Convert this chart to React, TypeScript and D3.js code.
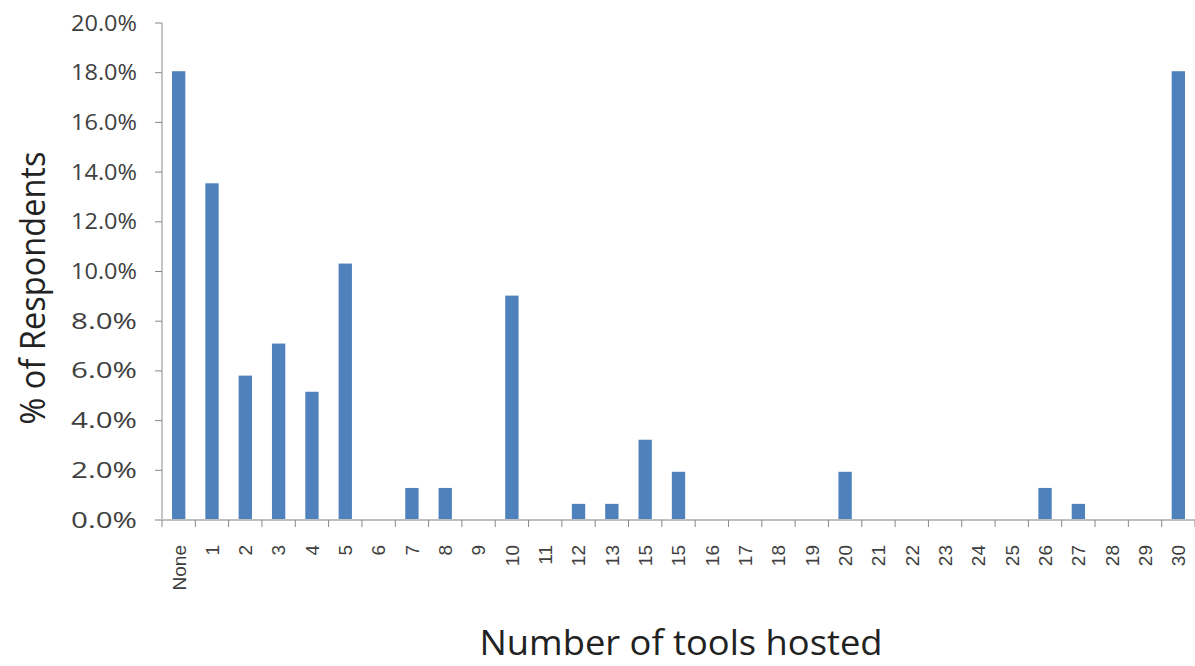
import React from "react";
import * as d3 from "d3";

const categories = ["None","1","2","3","4","5","6","7","8","9","10","11","12","13","15","15","16","17","18","19","20","21","22","23","24","25","26","27","28","29","30"];
const values = [18.06,13.55,5.81,7.10,5.16,10.32,0,1.29,1.29,0,9.03,0,0.65,0.65,3.23,1.94,0,0,0,0,1.94,0,0,0,0,0,1.29,0.65,0,0,18.06];
const yTicks = [0,2,4,6,8,10,12,14,16,18,20];

export default function App() {
  const W = 1195, H = 666;
  const left = 162, right = 1195, top = 23, bottom = 520;
  const x = d3.scaleBand<number>().domain(d3.range(categories.length)).range([left, right]).paddingInner(0.6).paddingOuter(0.3);
  const y = d3.scaleLinear().domain([0, 20]).range([bottom, top]);
  const step = x.step();
  return (
    <svg width={W} height={H} style={{ position: "absolute", left: 0, top: 0 }}>
      <rect width={W} height={H} fill="#fff" />
      {values.map((v, i) => (
        <rect key={i} x={x(i)!} width={x.bandwidth()} y={y(v)} height={bottom - y(v)} fill="#4F81BD" />
      ))}
      <line x1={left} x2={left} y1={top} y2={bottom} stroke="#888" strokeWidth={1} />
      {yTicks.map(t => (
        <g key={t}>
          <line x1={left - 7} x2={left} y1={y(t)} y2={y(t)} stroke="#888" />
          <text x={137} y={y(t)} dy="0.36em" textAnchor="end" fontFamily="'Open Sans', sans-serif" fontSize={21} textLength={66} lengthAdjust="spacingAndGlyphs" fill="#404040">{t.toFixed(1) + "%"}</text>
        </g>
      ))}
      <line x1={left - 7} x2={right} y1={bottom} y2={bottom} stroke="#c0c0c0" strokeWidth={2} />
      {d3.range(categories.length + 1).map(i => (
        <line key={i} x1={left + step * i} x2={left + step * i} y1={bottom} y2={bottom + 7} stroke="#888" />
      ))}
      {categories.map((c, i) => {
        const cx = x(i)! + x.bandwidth() / 2;
        return (
          <text key={i} transform={`translate(${cx},${545}) rotate(-90)`} textAnchor="end" dy="0.36em" fontFamily="'Liberation Sans', Arial, sans-serif" fontSize={19} fill="#404040">{c}</text>
        );
      })}
      <text transform={`translate(45,${288}) rotate(-90)`} textAnchor="middle" fontFamily="'Open Sans', sans-serif" fontSize={34} textLength={273} lengthAdjust="spacingAndGlyphs" fill="#222">% of Respondents</text>
      <text x={681} y={655} textAnchor="middle" fontFamily="'Open Sans', sans-serif" fontSize={35} textLength={403} lengthAdjust="spacingAndGlyphs" fill="#222">Number of tools hosted</text>
    </svg>
  );
}
